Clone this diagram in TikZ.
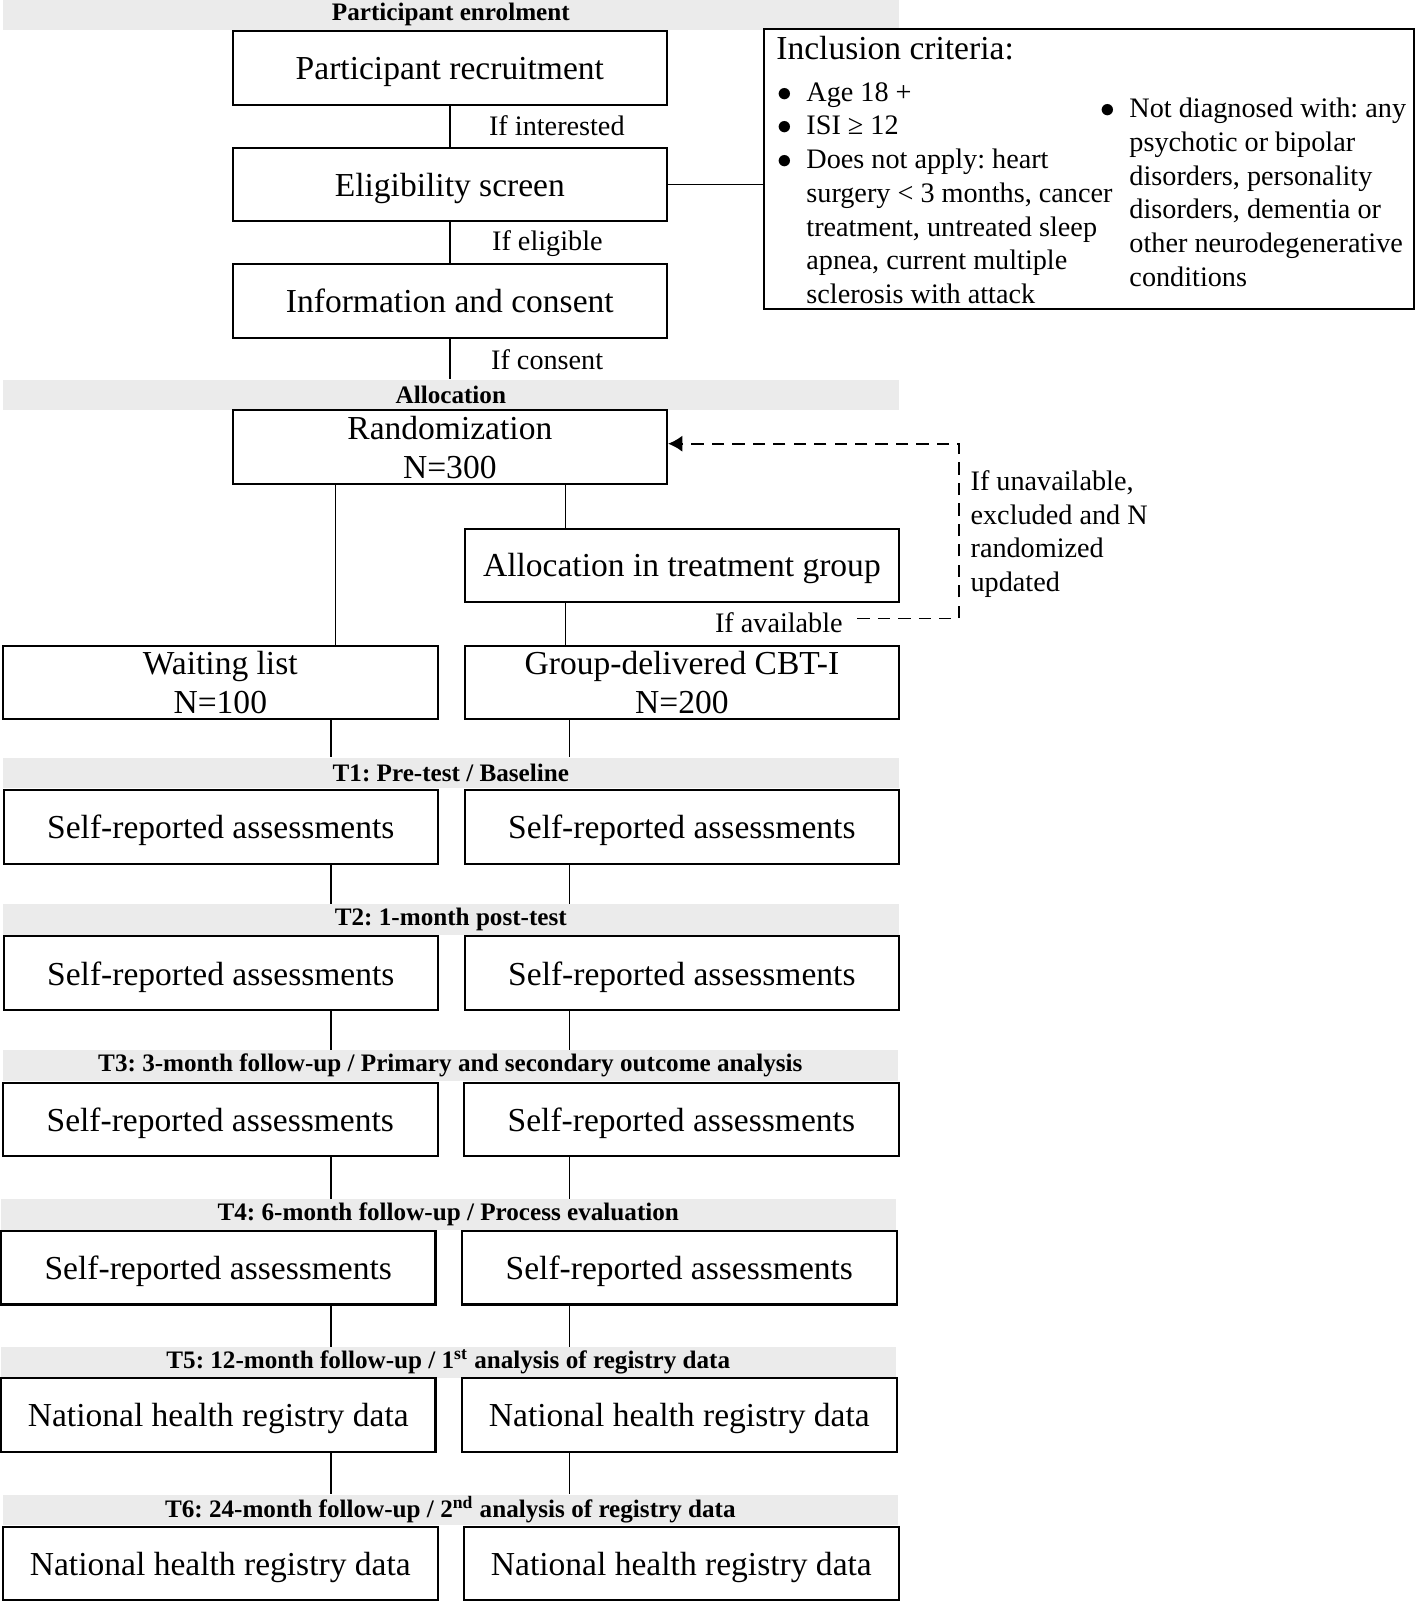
\documentclass[tikz,border=0pt]{standalone}
\usepackage{fontspec}
\setmainfont{Liberation Serif}
\usetikzlibrary{arrows.meta}
\definecolor{bandgray}{RGB}{235,235,235}
\frenchspacing

\tikzset{
  box/.style={draw, line width=1pt, minimum width=212.5pt, minimum height=36pt, inner sep=0pt, text depth=0pt, align=center, font=\fontsize{16.4}{19}\selectfont},
  band/.style={fill=bandgray, minimum width=438pt, minimum height=15pt, inner sep=0pt, font=\bfseries\fontsize{12.3}{14}\selectfont},
  cond/.style={inner sep=0pt, anchor=west, font=\fontsize{13.8}{16.5}\selectfont},
  link/.style={line width=0.75pt},
  dashlink/.style={line width=0.9pt, dash pattern=on 6pt off 4pt, -{Latex[length=7pt,width=8pt]}},
}

\begin{document}
\begin{tikzpicture}[x=0.5pt,y=-0.5pt]
\useasboundingbox (0,0) rectangle (1386,1568);

% enrolment
\node[band] (benrol) at (441,14) {Participant enrolment};
\node[box] (rec) at (440,66.5) {Participant recruitment};
\node[box] (elig) at (440,180.5) {Eligibility screen};
\node[box] (cons) at (440,294.5) {Information and consent};
\node[cond] (ifint) at (478,123) {If interested};
\node[cond] (ifelig) at (481,238) {If eligible};
\node[cond] (ifcons) at (480,352) {If consent};

% inclusion criteria
\node[draw, line width=1pt, minimum width=318pt, minimum height=137pt, inner sep=0pt] (incl) at (1065,165) {};
\node[anchor=base west, inner sep=0pt, font=\fontsize{16.4}{19}\selectfont] (incltitle) at (759,58) {Inclusion criteria:};
\node[anchor=base west, inner sep=0pt, font=\fontsize{13.8}{16.5}\selectfont] (inclleft) at (760,99) {%
\begin{tabular}[t]{@{}l@{\hspace{7pt}}l@{}}
$\bullet$ & Age 18 +\\
$\bullet$ & ISI ≥ 12\\
$\bullet$ & Does not apply: heart\\
 & surgery < 3 months, cancer\\
 & treatment, untreated sleep\\
 & apnea, current multiple\\
 & sclerosis with attack
\end{tabular}};
\node[anchor=base west, inner sep=0pt, font=\fontsize{13.8}{16.5}\selectfont] (inclright) at (1076,115) {%
\begin{tabular}[t]{@{}l@{\hspace{7pt}}l@{}}
$\bullet$ & Not diagnosed with: any\\
 & psychotic or bipolar\\
 & disorders, personality\\
 & disorders, dementia or\\
 & other neurodegenerative\\
 & conditions
\end{tabular}};

% allocation
\node[band] (balloc) at (441,386.5) {Allocation};
\node[box] (rand) at (440,437.5) {Randomization\\N=300};
\node[box] (atg) at (667,553) {Allocation in treatment group};
\node[box] (wl) at (215.5,667.5) {Waiting list\\N=100};
\node[box] (cbt) at (667,667.5) {Group-delivered CBT-I\\N=200};
\node[cond] (avail) at (699,609) {If available};
\node[cond, align=left] (unavail) at (949,522.5) {If unavailable,\\excluded and N\\randomized\\updated};

\draw[link] (rec) -- (elig);
\draw[link] (elig) -- (cons);
\draw[link] (cons.south) -- (cons.south |- balloc.north);
\draw[link] (elig.east) -- (incl.west |- elig.east);

\coordinate (randl) at (328,0);
\coordinate (randr) at (553,0);
\coordinate (dashturn) at (938,605);
\draw[link] (rand.south -| randl) -- (wl.north -| randl);
\draw[link] (rand.south -| randr) -- (atg.north -| randr);
\draw[link] (atg.south -| randr) -- (cbt.north -| randr);
\draw[dashlink, shorten <=7pt] (avail.east |- dashturn) -- (dashturn) |- ([yshift=1.75pt]rand.east);

% follow-up rows
\foreach \i/\yb/\yr/\dx/\txt/\boxtxt in {
  1/756/809/0/{T1: Pre-test / Baseline}/{Self-reported assessments},
  2/899.5/952/0/{T2: 1-month post-test}/{Self-reported assessments},
  3/1042.5/1095/-0.5/{T3: 3-month follow-up / Primary and secondary outcome analysis}/{Self-reported assessments},
  4/1188/1240/-2.5/{T4: 6-month follow-up / Process evaluation}/{Self-reported assessments},
  5/1332.5/1384/-2.5/{T5: 12-month follow-up / 1\textsuperscript{st} analysis of registry data}/{National health registry data},
  6/1477/1529.5/-0.5/{T6: 24-month follow-up / 2\textsuperscript{nd} analysis of registry data}/{National health registry data}} {
  \node[band] (band\i) at (441+\dx,\yb) {\txt};
  \node[box] (left\i) at (216+\dx,\yr) {\boxtxt};
  \node[box] (right\i) at (667+\dx,\yr) {\boxtxt};
}

\coordinate (lanel) at (324,0);
\coordinate (laner) at (557,0);
\draw[link] (wl.south -| lanel) -- (band1.north -| lanel);
\draw[link] (cbt.south -| laner) -- (band1.north -| laner);
\foreach \i/\j in {1/2,2/3,3/4,4/5,5/6} {
  \draw[link] (left\i.south -| lanel) -- (band\j.north -| lanel);
  \draw[link] (right\i.south -| laner) -- (band\j.north -| laner);
}
\end{tikzpicture}
\end{document}
